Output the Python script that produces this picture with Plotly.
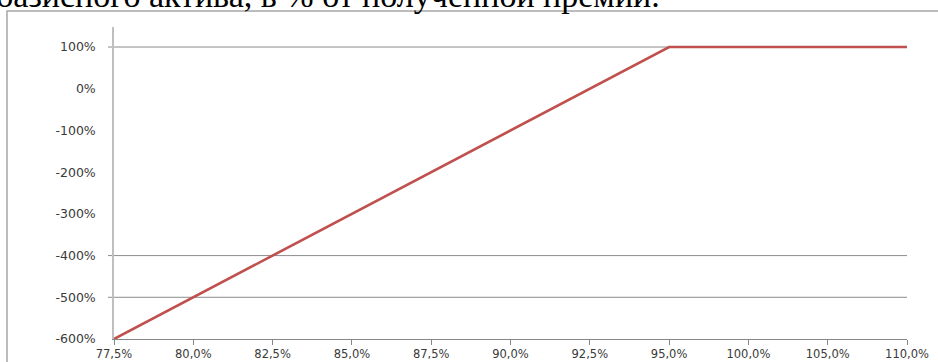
import plotly.graph_objects as go

# Data
x_labels = ["77,5%", "80,0%", "82,5%", "85,0%", "87,5%", "90,0%", "92,5%",
            "95,0%", "100,0%", "105,0%", "110,0%"]
profit_pct = [-600, -500, -400, -300, -200, -100, 0, 100, 100, 100, 100]
y_ticks = [100, 0, -100, -200, -300, -400, -500, -600]
y_tick_labels = ["100%", "0%", "-100%", "-200%", "-300%", "-400%", "-500%", "-600%"]
visible_grid = [100, -400, -500]
title_text = "базисного актива, в % от полученной премии."

W, H = 938, 362
L, R, T, B = 114, 31, 27, 23
plot_w = W - L - R
plot_h = H - T - B

x_idx = list(range(len(x_labels)))

fig = go.Figure()
fig.add_trace(go.Scatter(
    x=x_idx, y=profit_pct, mode="lines",
    line=dict(color="#C0504D", width=2.6),
    showlegend=False, hoverinfo="skip",
))

shapes = []
for g in visible_grid:
    shapes.append(dict(type="line", xref="paper", yref="y",
                       x0=-6 / plot_w, x1=1, y0=g, y1=g,
                       line=dict(color="#8c8c8c", width=1), layer="below"))
# outer chart frame
shapes.append(dict(type="rect", xref="paper", yref="paper",
                   x0=(7 - L) / plot_w, x1=(W + 20 - L) / plot_w,
                   y0=(H - B - (H + 20)) / plot_h, y1=(H - B - 11) / plot_h,
                   line=dict(color="#a6a6a6", width=1.5), fillcolor="rgba(0,0,0,0)",
                   layer="below"))

fig.update_layout(
    width=W, height=H,
    margin=dict(l=L, r=R, t=T, b=B, pad=0, autoexpand=False),
    paper_bgcolor="white", plot_bgcolor="white",
    shapes=shapes,
    xaxis=dict(
        range=[0, len(x_labels) - 1], automargin=False,
        tickmode="array", tickvals=x_idx, ticktext=x_labels,
        showgrid=False, zeroline=False,
        showline=True, linecolor="#868686", linewidth=1,
        ticks="outside", ticklen=5, tickcolor="#868686",
        ticklabelstandoff=-1,
        tickfont=dict(family="DejaVu Sans", size=11.5, color="#3a3a3a"),
    ),
    yaxis=dict(
        range=[-600, 148], automargin=False,
        tickmode="array", tickvals=y_ticks, ticktext=y_tick_labels,
        showgrid=False, zeroline=False,
        showline=True, linecolor="#bfbfbf", linewidth=1.5,
        ticks="", ticklabelstandoff=14,
        tickfont=dict(family="DejaVu Sans", size=12.5, color="#3a3a3a"),
    ),
    annotations=[dict(
        text=title_text, xref="paper", yref="paper",
        x=(-6 - L) / plot_w, y=(H - B - 16) / plot_h,
        xanchor="left", yanchor="bottom", showarrow=False,
        font=dict(family="Liberation Serif", size=34, color="#000000"),
    )],
)

fig.write_html("out.html")
